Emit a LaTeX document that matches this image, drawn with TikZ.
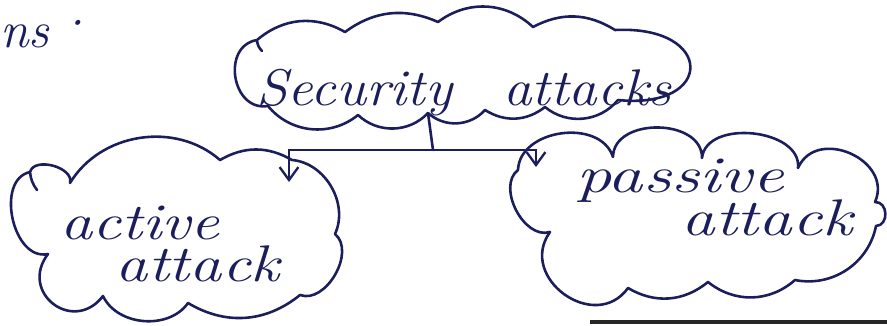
\documentclass[tikz,border=0pt]{standalone}
\usetikzlibrary{arrows.meta}
\definecolor{ink}{RGB}{28,30,92}
\begin{document}
\begin{tikzpicture}[x=0.3mm,y=-0.3mm,
  cloudline/.style={draw=ink, line width=2.2pt, line join=round, line cap=round},
  word/.style={font=\fontsize{44}{48}\selectfont\itshape, text=ink, inner sep=0pt, anchor=base, xscale=1.3},
  link/.style={draw=ink, line width=2.2pt, line cap=round},
  tip/.style={link, -{Straight Barb[length=11pt,width=16pt,line width=2pt]}}]
\useasboundingbox (0,0) rectangle (887,325);
% top cloud
\draw[cloudline] (262,51) to[bend left=20] (257,40)
  to[bend left=35] (345,32) to[bend left=30] (438,22) to[bend left=40] (533,27)
  to[bend left=30] (615,30) .. controls (715,25) and (715,110) .. (618,100)
  to[bend left=45] (545,107) to[bend left=35] (485,110) to[bend left=45] (428,113)
  to[bend left=45] (358,115) to[bend left=45] (268,106)
  to[bend left=90, looseness=1.4] (257,40);
% left cloud
\draw[cloudline] (37,190) to[bend left=15] (30,172)
  to[bend left=90] (70,183) to[bend left=50] (220,160) to[bend left=30] (292,160)
  to[bend left=55] (335,234) to[bend left=80] (300,295) to[bend left=35] (188,303)
  to[bend left=60] (103,296) to[bend left=90, looseness=1.8] (48,254)
  to[bend left=90, looseness=1.1] (30,172);
% right cloud
\draw[cloudline] (518,170)
  to[bend left=80, looseness=1.1] (613,157) to[bend left=90, looseness=1.15] (702,158)
  to[bend left=90, looseness=1.05] (798,168) to[bend left=90, looseness=1.4] (875,202)
  to[bend left=90, looseness=1.4] (876,226) to[bend left=45] (795,280)
  to[bend left=40] (708,282) to[bend left=35] (628,288)
  to[bend left=90, looseness=1.5] (550,232) to[bend left=80] (518,170);
% texts
\node[word, xscale=0.85] (sec) at (464,105) {Security\hspace{0.9em}attacks};
\node[word, xscale=0.96, align=left, anchor=north west,
      font=\fontsize{44}{36}\selectfont\itshape] (act) at (60,206)
      {active\\\hspace{38pt}attack};
\node[word, xscale=1.05] (pas1) at (680,192) {passive};
\node[word] (pas2) at (767,235) {attack};
\node[word, xscale=0.77, anchor=base west] (ns) at (0,47) {ns\hspace{0.1em}\raisebox{0.3ex}{·}};
% connectors
\coordinate (topfoot) at (428,113);
\coordinate (j) at (433,150);
\coordinate (la) at (289,182);
\coordinate (ra) at (536,167);
\draw[link] (topfoot) -- (j);
\draw[tip] (j) -| (la);
\draw[tip] (j) -| (ra);
% page edge line
\draw[line width=3pt, black!85] (590,322) -- (887,322);
\end{tikzpicture}
\end{document}
